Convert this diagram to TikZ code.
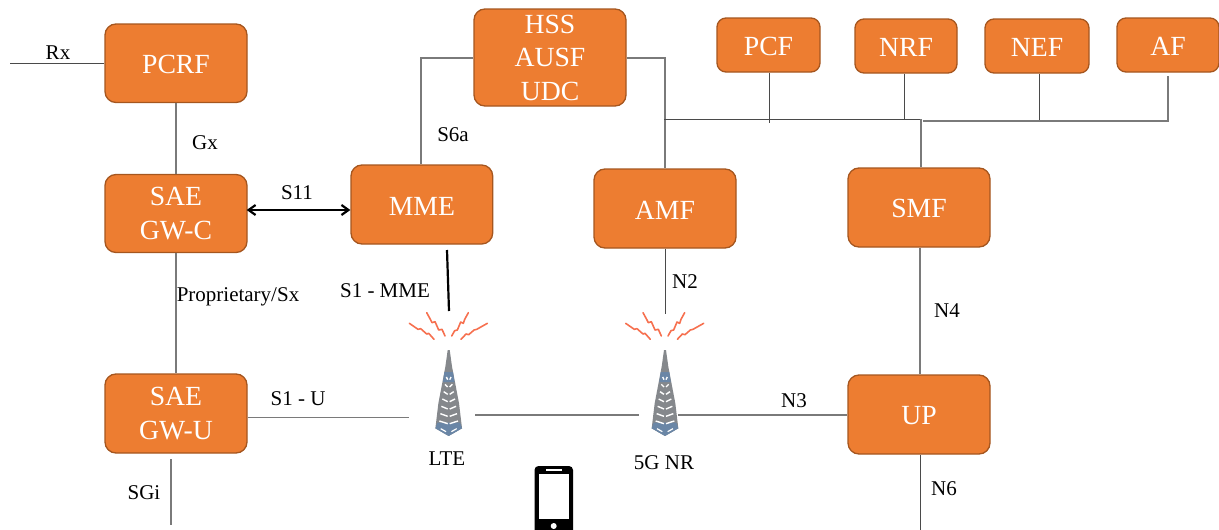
\documentclass[tikz,border=0pt]{standalone}
\usepackage{fontspec}
\setmainfont{Liberation Serif}
\usetikzlibrary{arrows.meta}
\definecolor{boxfill}{HTML}{ED7D31}
\definecolor{boxedge}{HTML}{A5561F}
\definecolor{wire}{HTML}{7A7A7A}
\definecolor{wiredark}{HTML}{4A4A4A}
\definecolor{bolt}{HTML}{F6704F}
\definecolor{towergrey}{HTML}{85888C}
\definecolor{towerblue}{HTML}{6A86A6}
\tikzset{
  nf/.style={draw=boxedge,line width=1.3pt,fill=boxfill,text=white,rounded corners=11pt,inner sep=0pt,align=center,font=\fontsize{27.7}{33.5}\selectfont,execute at begin node={\rule{0pt}{21pt}}},
  nfsmall/.style={nf,rounded corners=9pt},
  lbl/.style={inner sep=0pt,font=\fontsize{21}{23}\selectfont,text=black},
  wireline/.style={draw=wire,line width=1.1pt},
  darkline/.style={draw=wiredark,line width=1pt},
  thickline/.style={draw=black,line width=2.2pt},
  boltline/.style={draw=bolt,line width=1.6pt,line join=round,line cap=round},
  gap/.style={inner sep=0pt,minimum width=66pt,minimum height=90pt}
}
\newcommand{\nfbox}[7][nf]{\node[#1,minimum width=#5pt-#3pt,minimum height=#6pt-#4pt] (#2) at ({(#3+#5)/2},{(#4+#6)/2}) {#7};}
\newcommand{\radiotower}[1]{%
\begin{scope}[shift={(#1,350)},x=0.3333pt,y=-0.3333pt]
  \fill[towergrey] (-3,0) -- (3,0) -- (10,50) -- (31,160) -- (40,235) -- (0,258) -- (-40,235) -- (-31,160) -- (-10,50) -- cycle;
  \fill[towerblue] (-13,66) -- (13,66) -- (17,96) -- (-17,96) -- cycle;
  \fill[towerblue] (-34,218) -- (34,218) -- (40,235) -- (0,258) -- (-40,235) -- cycle;
  \foreach \yy/\ww in {82/6,104/10,126/14,148/18,170/21,192/24,214/27}{
    \draw[white,line width=1.4pt] (-\ww-1,\yy-1) -- (-3,\yy+7);
    \draw[white,line width=1.4pt] (\ww+1,\yy-1) -- (3,\yy+7);
  }
  \draw[white,line width=1.2pt] (-24,236) -- (-8,245);
  \draw[white,line width=1.2pt] (24,236) -- (8,245);
  \draw[boltline] (-118,-80) -- (-92,-62) -- (-84,-64) -- (-66,-48) -- (-60,-50) -- (-44,-32);
  \draw[boltline] (-66,-112) -- (-54,-90) -- (-50,-82) -- (-41,-85) -- (-30,-60) -- (-20,-62) -- (-11,-42);
  \draw[boltline] (59,-112) -- (48,-92) -- (44,-80) -- (36,-84) -- (26,-60) -- (18,-58) -- (9,-42);
  \draw[boltline] (116,-80) -- (84,-62) -- (76,-60) -- (60,-46) -- (52,-48) -- (37,-32);
\end{scope}}
\begin{document}
\begin{tikzpicture}[x=1pt,y=-1pt]
\useasboundingbox (0,0) rectangle (1219,530);
% free ends and routing points
\coordinate (rxend) at (10,63);
\coordinate (busw) at (664,119);
\coordinate (buse) at (921,119);
\coordinate (afbend) at (1168,121);
\coordinate (afend) at (1168,76);
\coordinate (afj) at (923,121);
\coordinate (hssl) at (421,58);
\coordinate (hssr) at (665,58);
\coordinate (s11w) at (246.7,210);
\coordinate (sgitop) at (171,459);
\coordinate (sgibot) at (171,525);
\coordinate (n6end) at (920,530);
\coordinate (s1top) at (447,250);
\coordinate (s1bot) at (449,311);
\coordinate (n2bot) at (665,314);
\coordinate (pcfend) at (769,123);
\coordinate (nrfend) at (904,120);
\coordinate (nefend) at (1039,120);
\coordinate (smfup) at (920,300);
% boxes
\nfbox{pcrf}{105}{24}{247}{102.5}{PCRF}
\nfbox{saec}{105}{174.5}{247}{252.5}{SAE\\GW-C}
\nfbox{sgwu}{105}{374}{247}{453}{SAE\\GW-U}
\nfbox{mme}{351}{165}{492.7}{244}{MME}
\nfbox{hss}{474}{9}{626}{106}{HSS\\AUSF\\UDC}
\nfbox{amf}{594}{169}{736}{248}{AMF}
\nfbox{smf}{848}{168}{990}{247}{SMF}
\nfbox{up}{848}{375}{990}{454}{UP}
\nfbox[nfsmall]{pcf}{717}{18}{820}{72}{PCF}
\nfbox[nfsmall]{nrf}{855}{19}{957}{73}{NRF}
\nfbox[nfsmall]{nef}{985}{19}{1089}{73}{NEF}
\nfbox[nfsmall]{af}{1117}{18}{1219}{72}{AF}
\node[gap] (lte) at (442,395) {};
\node[gap,minimum width=39pt] (nr) at (658.5,395) {};
\radiotower{448.7}
\radiotower{665}
% connectors
\draw[darkline,line width=0.9pt] (rxend) -- (rxend -| pcrf.west);
\draw[wireline] (pcrf.south) -- (saec.north);
\draw[wireline] (saec.south) -- (sgwu.north);
\draw[thickline,{Straight Barb[length=7pt,width=10pt]}-{Straight Barb[length=7pt,width=10pt]}] (s11w) -- (s11w -| mme.west);
\draw[wireline] (hssl -| hss.west) -- (hssl) -- (hssl |- mme.north);
\draw[wireline] (hssr -| hss.east) -- (hssr) -- (hssr |- amf.north);
\draw[darkline] (busw) -- (buse);
\draw[wireline] (buse) -- (buse |- smf.north);
\draw[wireline] (afj) -- (afbend) -- (afend);
\draw[darkline] (pcfend |- pcf.south) -- (pcfend);
\draw[darkline] (nrfend |- nrf.south) -- (nrfend);
\draw[darkline,line width=0.8pt] (nefend |- nef.south) -- (nefend);
\draw[thickline] (s1top) -- (s1bot);
\draw[darkline,line width=0.9pt] (n2bot |- amf.south) -- (n2bot);
\draw[wireline] (smfup |- smf.south) -- (smfup |- up.north);
\draw[darkline] (n6end |- up.south) -- (n6end);
\draw[wireline] (sgwu.east |- 0,417.7) -- (lte.west |- 0,417.7);
\draw[wireline] (lte.east |- 0,415) -- (nr.west |- 0,415);
\draw[wireline] (nr.east |- 0,415) -- (up.west |- 0,415);
\draw[wireline] (sgitop) -- (sgibot);
% labels
\node[lbl] (tRx) at (58,52.5) {Rx};
\node[lbl] (tGx) at (205,142.5) {Gx};
\node[lbl] (tS11) at (297,192.5) {S11};
\node[lbl] (tS6a) at (453,134.5) {S6a};
\node[lbl] (tProp) at (238,296.5) {Proprietary/Sx};
\node[lbl] (tS1M) at (385,290.5) {S1 - MME};
\node[lbl] (tN2) at (685,281.5) {N2};
\node[lbl] (tN4) at (947,310.5) {N4};
\node[lbl] (tS1U) at (298,398.5) {S1 - U};
\node[lbl] (tN3) at (794,400.5) {N3};
\node[lbl] (tN6) at (944,488.5) {N6};
\node[lbl] (tSGi) at (144,492.5) {SGi};
\node[lbl] (tLTE) at (447,458.5) {LTE};
\node[lbl] (tNR) at (664,462.5) {5G NR};
% handset
\begin{scope}
  \clip (0,0) rectangle (1219,530);
  \fill[black,rounded corners=4pt] (534.5,466) rectangle (573,545);
  \fill[white] (538.5,474) rectangle (569,518.5);
  \fill[white] (546,469) rectangle (561.7,471.3);
  \fill[white] (553.7,526) circle (3pt);
\end{scope}
\end{tikzpicture}
\end{document}
